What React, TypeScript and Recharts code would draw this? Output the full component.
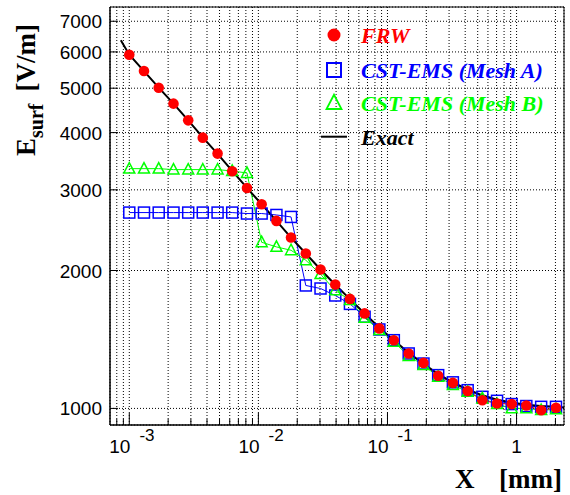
import React from 'react';
import {
  ComposedChart, Line, XAxis, YAxis, CartesianGrid, ReferenceArea, Legend
} from 'recharts';

// x positions of the computed points [mm]
const xPoints = [
  0.001, 0.0013, 0.00169, 0.0022, 0.00286, 0.00371, 0.00483, 0.00627, 0.00816, 0.0106,
  0.0138, 0.0179, 0.0233, 0.0303, 0.0394, 0.0512, 0.0665, 0.0865, 0.112, 0.146,
  0.19, 0.247, 0.321, 0.418, 0.543, 0.706, 0.917, 1.19, 1.55, 2.02
];

// surface field [V/m]
const frw = [
  5917, 5450, 5013, 4627, 4254, 3900, 3599, 3293, 3027, 2790,
  2566, 2360, 2178, 2010, 1864, 1734, 1612, 1495, 1409, 1318,
  1257, 1178, 1137, 1091, 1042, 1025, 1022, 1015, 991, 1003
];
const meshA = [
  2676, 2676, 2676, 2676, 2676, 2676, 2676, 2676, 2663, 2663,
  2644, 2618, 1855, 1827, 1764, 1691, 1585, 1487, 1409, 1318,
  1253, 1182, 1140, 1096, 1060, 1039, 1022, 1012, 1008, 1008
];
const meshB = [
  3337, 3337, 3337, 3321, 3321, 3321, 3321, 3298, 3265, 2305,
  2252, 2214, 2106, 1963, 1809, 1723, 1576, 1482, 1397, 1301,
  1243, 1172, 1124, 1087, 1051, 1022, 1000, 1000, 991, 995
];
const exact = [
  5917, 5450, 5013, 4627, 4254, 3905, 3595, 3300, 3030, 2790,
  2566, 2360, 2178, 2010, 1862, 1732, 1612, 1500, 1408, 1322,
  1252, 1188, 1140, 1100, 1068, 1045, 1030, 1019, 1012, 1008
];
// exact curve also drawn a little beyond the first and last point
const exactStart = { x: 0.00086, y: 6360 };
const exactEnd = { x: 2.33, y: 1004 };

const xDomain = [0.000709, 2.33];
const yDomain = [920, 7520];

const xTicks = [
  0.0008, 0.0009, 0.001, 0.002, 0.003, 0.004, 0.005, 0.006, 0.007, 0.008, 0.009,
  0.01, 0.02, 0.03, 0.04, 0.05, 0.06, 0.07, 0.08, 0.09,
  0.1, 0.2, 0.3, 0.4, 0.5, 0.6, 0.7, 0.8, 0.9, 1, 2
];
const xMajorTicks = [0.001, 0.01, 0.1, 1];
const xMajorLabels = [['10', '-3'], ['10', '-2'], ['10', '-1'], ['1', '']];
const yTicks = [1000, 2000, 3000, 4000, 5000, 6000, 7000];

const legendNames = ['FRW', 'CST-EMS (Mesh A)', 'CST-EMS (Mesh B)', 'Exact'];
const RED = '#ff0000';
const BLUE = '#0000ff';
const GREEN = '#00ff00';

const chartData = [
  { x: exactStart.x, exact: exactStart.y },
  ...xPoints.map((x, i) => ({
    x, frw: frw[i], meshA: meshA[i], meshB: meshB[i], exact: exact[i]
  })),
  { x: exactEnd.x, exact: exactEnd.y },
];

const SANS = '"Liberation Sans", Arial, sans-serif';
const SERIF = '"Liberation Serif", "Times New Roman", serif';

const XTick = ({ x, y, payload }: any) => {
  const i = xMajorTicks.indexOf(payload.value);
  if (i < 0) return <line x1={x} x2={x} y1={y} y2={y - 6} stroke="#000" />;
  const [base, exp] = xMajorLabels[i];
  return (
    <g>
      <line x1={x} x2={x} y1={y} y2={y - 12} stroke="#000" />
      {exp ? (
        <text x={x - 20} y={y + 28} fontFamily={SANS} fontSize={19} fill="#000">
          {base}
          <tspan dx={9} dy={-12} fontSize={17}>{exp}</tspan>
        </text>
      ) : (
        <text x={x} y={y + 28} textAnchor="middle" fontFamily={SANS} fontSize={19} fill="#000">
          {base}
        </text>
      )}
    </g>
  );
};

const YTick = ({ x, y, payload }: any) => (
  <g>
    <line x1={x} x2={x + 8} y1={y} y2={y} stroke="#000" />
    <text x={x - 8} y={y + 7} textAnchor="end" fontFamily={SANS} fontSize={19} fill="#000">
      {payload.value}
    </text>
  </g>
);

const YTitle = () => (
  <text transform="rotate(-90)" x={-156} y={35} fontFamily={SERIF} fontWeight="bold" fontSize={27} fill="#000">
    E
    <tspan dy={8} fontSize={20}>surf</tspan>
    <tspan dy={-8} dx={12}>[V/m]</tspan>
  </text>
);

const XTitle = () => (
  <text y={488} fontFamily={SERIF} fontWeight="bold" fontSize={27} fill="#000">
    <tspan x={455}>X</tspan>
    <tspan x={499}>[mm]</tspan>
  </text>
);

const Square = ({ cx, cy, size, color, width }: any) =>
  cx == null || cy == null ? null : (
    <rect x={cx - size / 2} y={cy - size / 2} width={size} height={size}
      fill="none" stroke={color} strokeWidth={width} />
  );

const Triangle = ({ cx, cy, size, color, width }: any) =>
  cx == null || cy == null ? null : (
    <polygon
      points={`${cx},${cy - size * 0.55} ${cx - size / 2},${cy + size * 0.4} ${cx + size / 2},${cy + size * 0.4}`}
      fill="none" stroke={color} strokeWidth={width} />
  );

const Dot = ({ cx, cy, r }: any) =>
  cx == null || cy == null ? null : <circle cx={cx} cy={cy} r={r} fill={RED} stroke="none" />;

const LegendBox = () => {
  const rows = [35, 70, 103, 136.7];
  const colors = [RED, BLUE, GREEN, '#000'];
  return (
    <svg width={570} height={170} style={{ display: 'block' }}>
      <Dot cx={334} cy={rows[0]} r={6.5} />
      <Square cx={334} cy={rows[1]} size={14} color={BLUE} width={2} />
      <Triangle cx={334} cy={rows[2]} size={15} color={GREEN} width={1.8} />
      <line x1={321} x2={347} y1={rows[3]} y2={rows[3]} stroke="#000" strokeWidth={2} />
      {legendNames.map((name, i) => (
        <text key={name} x={361} y={rows[i] + 8} fontFamily={SERIF} fontWeight="bold"
          fontStyle="italic" fontSize={22} fill={colors[i]}>
          {name}
        </text>
      ))}
    </svg>
  );
};

const App: React.FC = () => (
  <div style={{ position: 'absolute', left: 0, top: 0, width: 570, height: 495, background: '#fff' }}>
    <ComposedChart width={570} height={495} data={chartData}
      margin={{ top: 7, right: 6, bottom: 0, left: 0 }}>
      <CartesianGrid stroke="#000" strokeDasharray="1 2" strokeWidth={1} />
      <XAxis dataKey="x" type="number" scale="log" domain={xDomain} allowDataOverflow
        ticks={xTicks} tick={<XTick />} tickLine={false} tickSize={0} tickMargin={0}
        interval={0} height={70} axisLine={{ stroke: '#000' }} label={<XTitle />} />
      <YAxis type="number" scale="log" domain={yDomain} allowDataOverflow
        ticks={yTicks} tick={<YTick />} tickLine={false} tickSize={0} tickMargin={0}
        interval={0} width={110} axisLine={{ stroke: '#000' }} label={<YTitle />} />
      <Line dataKey="meshA" stroke={BLUE} strokeWidth={1} isAnimationActive={false} connectNulls
        dot={(p: any) => <Square key={p.index} cx={p.cx} cy={p.cy} size={11} color={BLUE} width={1.5} />} />
      <Line dataKey="meshB" stroke={GREEN} strokeWidth={1} isAnimationActive={false} connectNulls
        dot={(p: any) => <Triangle key={p.index} cx={p.cx} cy={p.cy} size={11} color={GREEN} width={1.5} />} />
      <Line dataKey="frw" stroke={RED} strokeWidth={1} isAnimationActive={false} connectNulls dot={false} />
      <Line dataKey="exact" stroke="#000" strokeWidth={2} isAnimationActive={false} connectNulls dot={false} />
      <Line dataKey="frw" stroke="none" isAnimationActive={false} connectNulls legendType="none"
        dot={(p: any) => <Dot key={p.index} cx={p.cx} cy={p.cy} r={5.3} />} />
      <ReferenceArea x1={xDomain[0]} x2={xDomain[1]} y1={yDomain[0]} y2={yDomain[1]}
        fill="none" stroke="#000" strokeWidth={1} ifOverflow="visible" />
      <Legend layout="vertical" align="center" verticalAlign="middle" content={<LegendBox />}
        wrapperStyle={{ position: 'absolute', left: 0, top: 0, width: 570, height: 170 }} />
    </ComposedChart>
  </div>
);

export default App;
